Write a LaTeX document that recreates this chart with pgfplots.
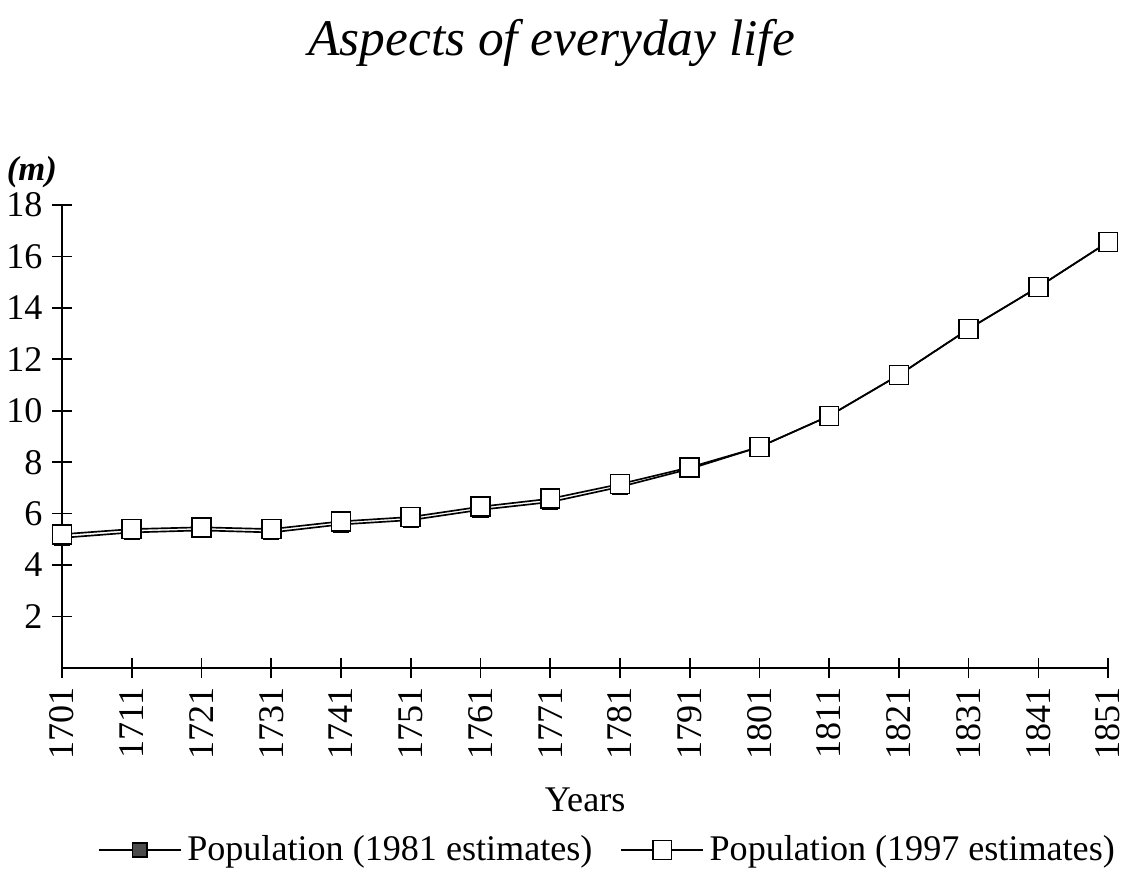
\documentclass[border=0pt]{standalone}
\usepackage{fontspec}
\setmainfont{Liberation Serif}
\usepackage{pgfplots}
\usetikzlibrary{calc}
\pgfplotsset{compat=1.18}
\begin{document}
\begin{tikzpicture}
\begin{axis}[
  scale only axis,
  width=376.6pt, height=166.7pt,
  xmin=0, xmax=15, ymin=0, ymax=18,
  axis lines=left,
  axis line style={-, line width=0.7pt},
  tick align=center,
  major tick length=7pt,
  tick style={line width=0.6pt, black},
  xtick={0,...,15},
  xticklabels={1701,1711,1721,1731,1741,1751,1761,1771,1781,1791,1801,1811,1821,1831,1841,1851},
  ytick={2,4,...,18},
  /pgf/number format/assume math mode=true,
  ticklabel style={font=\fontsize{13}{15}\selectfont},
  xticklabel style={rotate=90, anchor=east},
  yticklabel style={anchor=east},
  xlabel={Years},
  xlabel style={font=\fontsize{13}{15}\selectfont, at={(axis description cs:0.5,-0.285)}, anchor=center},
  legend columns=2,
  legend style={draw=none, fill=none, font=\fontsize{13}{15}\selectfont,
    at={(axis description cs:0.523,-0.393)}, anchor=center,
    /tikz/every even column/.append style={column sep=8pt}},
  legend image code/.code={\draw[mark repeat=2,mark phase=2,#1] plot coordinates {(0cm,0cm) (0.52cm,0cm) (1.04cm,0cm)};},
  clip=false,
]
\addplot[black, line width=0.6pt, mark=square*, mark size=2.6pt, mark options={fill=black!70, draw=black, solid}]
  coordinates {(0,5.06) (1,5.27) (2,5.35) (3,5.27) (4,5.58) (5,5.75) (6,6.15) (7,6.45) (8,7.04) (9,7.74) (10,8.59) (11,9.80) (12,11.39) (13,13.18) (14,14.81) (15,16.56)};
\addlegendentry{Population (1981 estimates)}
\addplot[black, line width=0.6pt, mark=square*, mark size=3.4pt, mark options={fill=white, draw=black, solid}]
  coordinates {(0,5.20) (1,5.40) (2,5.47) (3,5.40) (4,5.70) (5,5.87) (6,6.27) (7,6.58) (8,7.15) (9,7.80) (10,8.59) (11,9.80) (12,11.39) (13,13.18) (14,14.81) (15,16.56)};
\addlegendentry{Population (1997 estimates)}
\node[font=\fontsize{12.5}{14}\selectfont\bfseries\itshape] at (axis description cs:-0.0287,1.071) {(m)};
\node[font=\fontsize{18.5}{22}\selectfont\itshape] at (axis description cs:0.468,1.35) {Aspects of everyday life};
\end{axis}
\pgfresetboundingbox
\path (current axis.south west) ++(-22.32pt,-75.24pt) rectangle ($(current axis.south west)+(383.4pt,240.48pt)$);
\end{tikzpicture}
\end{document}
